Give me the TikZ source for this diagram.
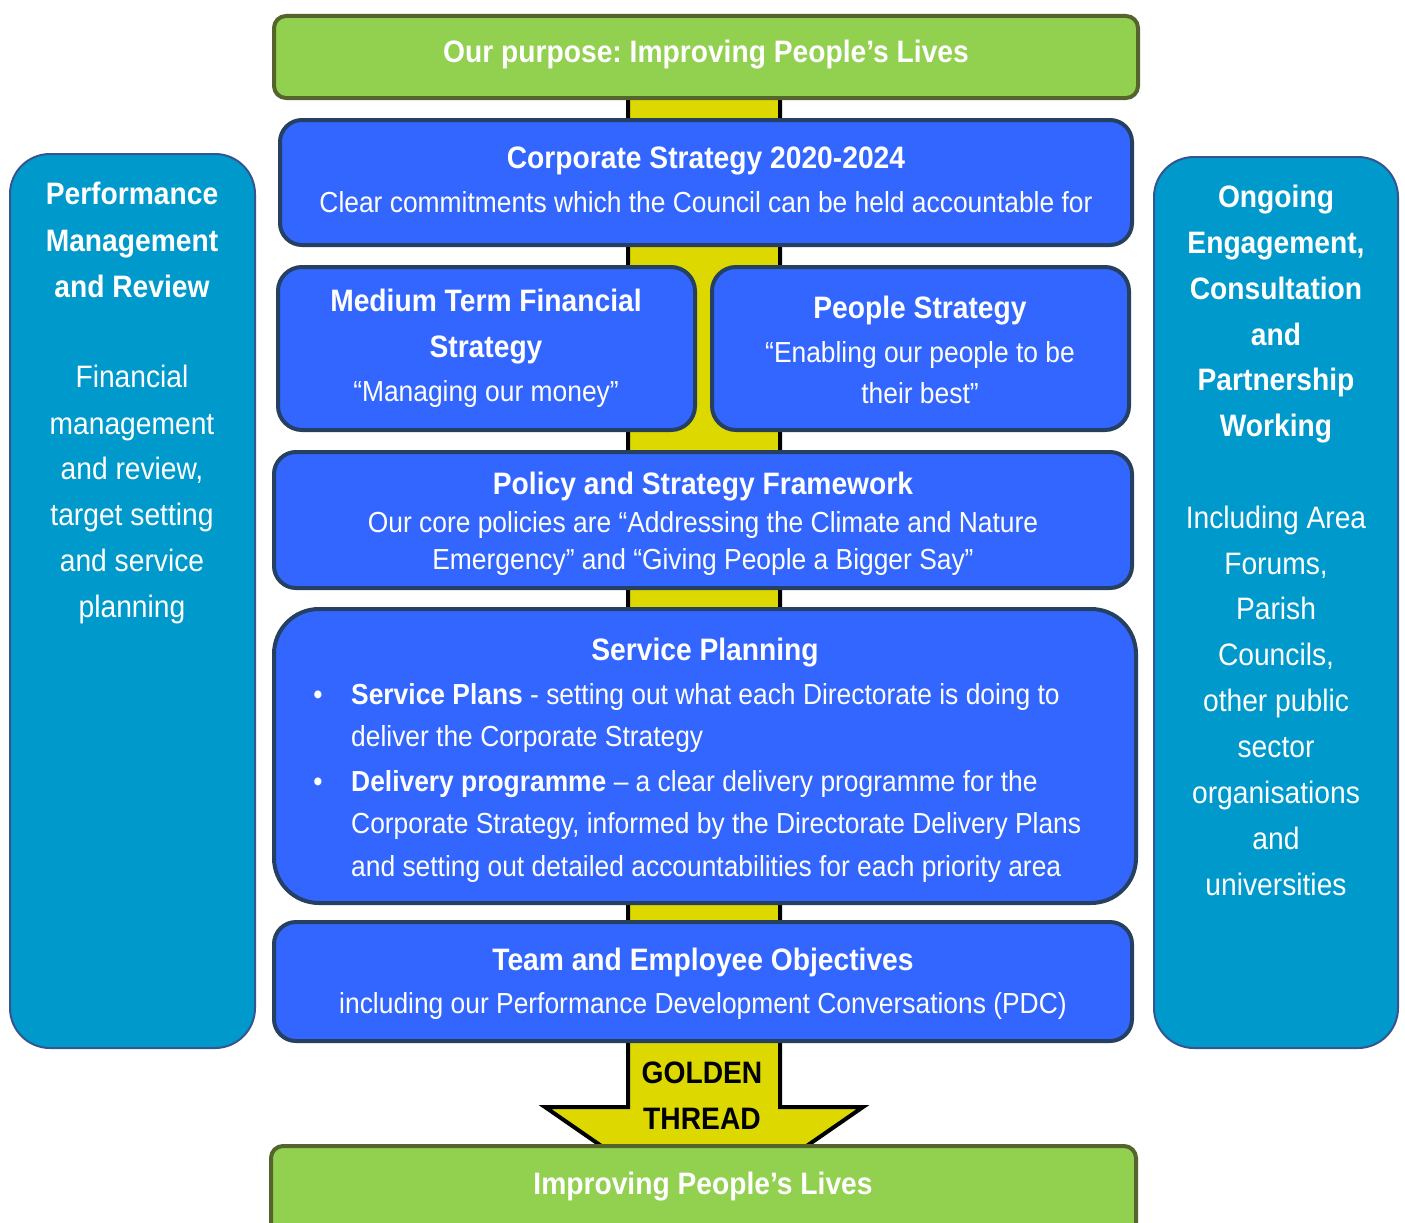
\documentclass[tikz,border=0pt]{standalone}
\usepackage{fontspec}
\setmainfont{Liberation Sans}[FakeStretch=0.91]
\definecolor{grfill}{RGB}{146,208,80}
\definecolor{grline}{RGB}{84,100,44}
\definecolor{blfill}{RGB}{51,102,255}
\definecolor{blline}{RGB}{37,64,97}
\definecolor{cyfill}{RGB}{0,153,204}
\definecolor{cyline}{RGB}{52,85,143}
\definecolor{gold}{RGB}{221,217,0}
\frenchspacing
\tikzset{
  greenbox/.style={draw=grline, fill=grfill, line width=4pt, rounded corners=12pt, inner sep=0pt},
  bluebox/.style={draw=blline, fill=blfill, line width=4pt, rounded corners=22pt, inner sep=0pt},
  sidebox/.style={draw=cyline, fill=cyfill, line width=2pt, rounded corners=40pt, inner sep=0pt},
  ttl/.style={anchor=base, inner sep=0pt, text=white, font=\fontsize{31}{36}\selectfont\bfseries},
  txt/.style={anchor=base, inner sep=0pt, text=white, font=\fontsize{29}{34}\selectfont},
  sidettl/.style={anchor=base, inner sep=0pt, text=white, font=\fontsize{31}{36}\selectfont\bfseries},
  sidetxt/.style={anchor=base, inner sep=0pt, text=white, font=\fontsize{31}{36}\selectfont},
  lefttxt/.style={anchor=base west, inner sep=0pt, text=white, font=\fontsize{29}{34}\selectfont},
}
\begin{document}
\begin{tikzpicture}[x=1pt,y=-1pt]
\useasboundingbox (0,0) rectangle (1405,1223);
\fill[white] (0,0) rectangle (1405,1223);
% golden thread
\draw[line width=4pt, fill=gold, line join=miter]
  (628,60) -- (628,1107) -- (545,1107) -- (704,1217) -- (863,1107) -- (780,1107) -- (780,60) -- cycle;
% boxes
\node[greenbox, minimum width=864pt, minimum height=82pt] (top) at (706,57) {};
\node[bluebox, minimum width=852pt, minimum height=125pt] (cs) at (706,182.5) {};
\node[bluebox, rounded corners=24pt, minimum width=417pt, minimum height=163pt] (mt) at (486.5,348.5) {};
\node[bluebox, rounded corners=24pt, minimum width=417pt, minimum height=163pt] (ps) at (920.5,348.5) {};
\node[bluebox, minimum width=858pt, minimum height=136pt] (pol) at (703,520) {};
\node[bluebox, rounded corners=45pt, minimum width=862pt, minimum height=294pt] (sp) at (705,756) {};
\node[bluebox, minimum width=858pt, minimum height=119pt] (team) at (703,981.5) {};
\node[greenbox, minimum width=865pt, minimum height=95pt] (bot) at (703.5,1193.5) {};
\node[sidebox, minimum width=245pt, minimum height=894pt] (left) at (132.5,601) {};
\node[sidebox, minimum width=244pt, minimum height=891pt] (right) at (1276,602.5) {};
% texts
\node[ttl] (topt) at (706,63) {Our purpose: Improving People’s Lives};
\node[ttl] (cs1) at (706,168) {Corporate Strategy 2020-2024};
\node[txt] (cs2) at (706,212) {Clear commitments which the Council can be held accountable for};
\node[ttl] (mt1) at (486,311) {Medium Term Financial};
\node[ttl] (mt2) at (486,357) {Strategy};
\node[txt] (mt3) at (486,401) {“Managing our money”};
\node[ttl] (ps1) at (920,318) {People Strategy};
\node[txt] (ps2) at (920,362) {“Enabling our people to be};
\node[txt] (ps3) at (920,403) {their best”};
\node[ttl] (pol1) at (703,494) {Policy and Strategy Framework};
\node[txt] (pol2) at (703,532) {Our core policies are “Addressing the Climate and Nature};
\node[txt] (pol3) at (703,569) {Emergency” and “Giving People a Bigger Say”};
\node[ttl] (sp0) at (705,660) {Service Planning};
\node[txt] (bu1) at (318,704) {•};
\node[lefttxt] (sp1) at (351,704) {\textbf{Service Plans} - setting out what each Directorate is doing to};
\node[lefttxt] (sp2) at (351,746) {deliver the Corporate Strategy};
\node[txt] (bu2) at (318,791) {•};
\node[lefttxt] (sp3) at (351,791) {\textbf{Delivery programme} – a clear delivery programme for the};
\node[lefttxt] (sp4) at (351,833) {Corporate Strategy, informed by the Directorate Delivery Plans};
\node[lefttxt] (sp5) at (351,876) {and setting out detailed accountabilities for each priority area};
\node[ttl] (tm1) at (703,970) {Team and Employee Objectives};
\node[txt] (tm2) at (703,1013) {including our Performance Development Conversations (PDC)};
\node[ttl, text=black] (gt1) at (702,1083) {GOLDEN};
\node[ttl, text=black] (gt2) at (702,1129) {THREAD};
\node[ttl] (bott) at (703,1194) {Improving People’s Lives};
% left side
\node[sidettl] (l1) at (132,204) {Performance};
\node[sidettl] (l2) at (132,251) {Management};
\node[sidettl] (l3) at (132,297) {and Review};
\node[sidetxt] (l4) at (132,387) {Financial};
\node[sidetxt] (l5) at (132,434) {management};
\node[sidetxt] (l6) at (132,479) {and review,};
\node[sidetxt] (l7) at (132,525) {target setting};
\node[sidetxt] (l8) at (132,571) {and service};
\node[sidetxt] (l9) at (132,617) {planning};
% right side
\node[sidettl] (r1) at (1276,207) {Ongoing};
\node[sidettl] (r2) at (1276,253) {Engagement,};
\node[sidettl] (r3) at (1276,299) {Consultation};
\node[sidettl] (r4) at (1276,345) {and};
\node[sidettl] (r5) at (1276,390) {Partnership};
\node[sidettl] (r6) at (1276,436) {Working};
\node[sidetxt] (r7) at (1276,528) {Including Area};
\node[sidetxt] (r8) at (1276,574) {Forums,};
\node[sidetxt] (r9) at (1276,619) {Parish};
\node[sidetxt] (r10) at (1276,665) {Councils,};
\node[sidetxt] (r11) at (1276,711) {other public};
\node[sidetxt] (r12) at (1276,757) {sector};
\node[sidetxt] (r13) at (1276,803) {organisations};
\node[sidetxt] (r14) at (1276,849) {and};
\node[sidetxt] (r15) at (1276,895) {universities};
\end{tikzpicture}
\end{document}
